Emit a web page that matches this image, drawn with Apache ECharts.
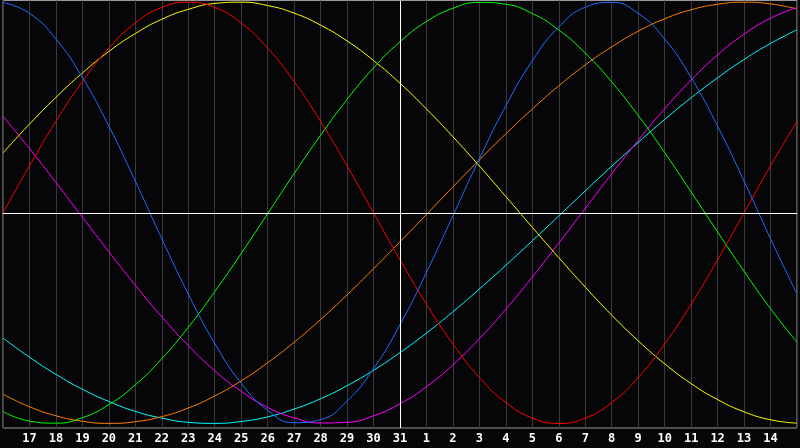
<!DOCTYPE html>
<html><head><meta charset="utf-8">
<script src="https://cdn.jsdelivr.net/npm/echarts@6/dist/echarts.min.js"></script>
<style>html,body{margin:0;padding:0;background:#060608;}#c{width:800px;height:448px;}</style>
</head><body><div id="c"></div>
<script>
const days = ['16','17','18','19','20','21','22','23','24','25','26','27','28','29','30','31','1','2','3','4','5','6','7','8','9','10','11','12','13','14','15'];
const physical = [0.999,0.947,0.825,0.642,0.411,0.150,-0.123,-0.386,-0.620,-0.809,-0.938,-0.997,-0.982,-0.894,-0.740,-0.531,-0.283,-0.014,0.257,0.508,0.722,0.882,0.976,0.999,0.947,0.825,0.642,0.411,0.150,-0.123,-0.386];
const emotional = [0,0.223,0.434,0.623,0.782,0.901,0.975,1,0.975,0.901,0.782,0.623,0.434,0.223,0,-0.223,-0.434,-0.623,-0.782,-0.901,-0.975,-1,-0.975,-0.901,-0.782,-0.623,-0.434,-0.223,0,0.223,0.434];
const intellectual = [-0.944,-0.989,-0.999,-0.973,-0.911,-0.817,-0.693,-0.544,-0.375,-0.193,-0.004,0.186,0.368,0.538,0.688,0.812,0.908,0.971,0.999,0.990,0.946,0.868,0.758,0.621,0.462,0.286,0.099,-0.091,-0.278,-0.455,-0.615];
const intuitive = [0.458,0.305,0.144,-0.021,-0.185,-0.344,-0.494,-0.630,-0.750,-0.848,-0.924,-0.974,-0.998,-0.995,-0.964,-0.907,-0.826,-0.722,-0.598,-0.458,-0.305,-0.144,0.021,0.185,0.344,0.494,0.630,0.750,0.848,0.924,0.974];
const aesthetic = [0.284,0.421,0.548,0.664,0.766,0.851,0.919,0.966,0.994,1.000,0.984,0.948,0.891,0.816,0.723,0.615,0.493,0.361,0.222,0.077,-0.069,-0.213,-0.353,-0.486,-0.608,-0.717,-0.811,-0.887,-0.945,-0.983,-0.999];
const awareness = [-0.862,-0.921,-0.964,-0.990,-1.000,-0.992,-0.968,-0.927,-0.870,-0.798,-0.712,-0.615,-0.507,-0.390,-0.266,-0.138,-0.008,0.123,0.251,0.375,0.493,0.603,0.702,0.788,0.862,0.921,0.964,0.990,1.000,0.992,0.968];
const spiritual = [-0.595,-0.686,-0.767,-0.838,-0.896,-0.943,-0.975,-0.995,-1.000,-0.991,-0.969,-0.932,-0.883,-0.821,-0.748,-0.664,-0.571,-0.470,-0.362,-0.249,-0.133,-0.015,0.104,0.221,0.334,0.443,0.546,0.641,0.728,0.804,0.869];

const chart = echarts.init(document.getElementById('c'));
function mk(name, data, color, extra) {
  return Object.assign({
    name: name, type: 'line', data: data, smooth: true, symbol: 'none',
    lineStyle: { color: color, width: 1 }, itemStyle: { color: color }, silent: true
  }, extra || {});
}
chart.setOption({
  animation: false,
  backgroundColor: '#060608',
  grid: { left: 0.5, right: 0, top: 0.5, bottom: 20, show: true, borderColor: '#9a9a9a', borderWidth: 1 },
  xAxis: {
    type: 'category', data: days, boundaryGap: false,
    axisLine: { lineStyle: { color: '#aaaaaa', width: 1 } },
    axisTick: { show: false },
    splitLine: { show: true, lineStyle: { color: '#3a3a3a', width: 1 } },
    axisLabel: {
      interval: 0, color: '#ffffff', fontWeight: 'bold', fontSize: 12,
      fontFamily: 'DejaVu Sans Mono', margin: 5,
      formatter: function (v, i) { return (i === 0 || i === days.length - 1) ? '' : v; }
    }
  },
  yAxis: {
    type: 'value', min: -1.022, max: 1.008,
    axisLine: { show: false }, axisTick: { show: false }, axisLabel: { show: false },
    splitLine: { show: false }
  },
  series: [
    mk('spiritual', spiritual, '#00ffff'),
    mk('awareness', awareness, '#ff8000'),
    mk('intuitive', intuitive, '#ff00ff'),
    mk('aesthetic', aesthetic, '#ffff00'),
    mk('intellectual', intellectual, '#00ff00'),
    mk('emotional', emotional, '#ff0000'),
    mk('physical', physical, '#1e6eff', {
      markLine: {
        silent: true, symbol: 'none', label: { show: false },
        lineStyle: { color: '#ffffff', type: 'solid', width: 1 },
        data: [{ xAxis: '31' }, { yAxis: 0 }]
      }
    })
  ]
});
</script></body></html>
